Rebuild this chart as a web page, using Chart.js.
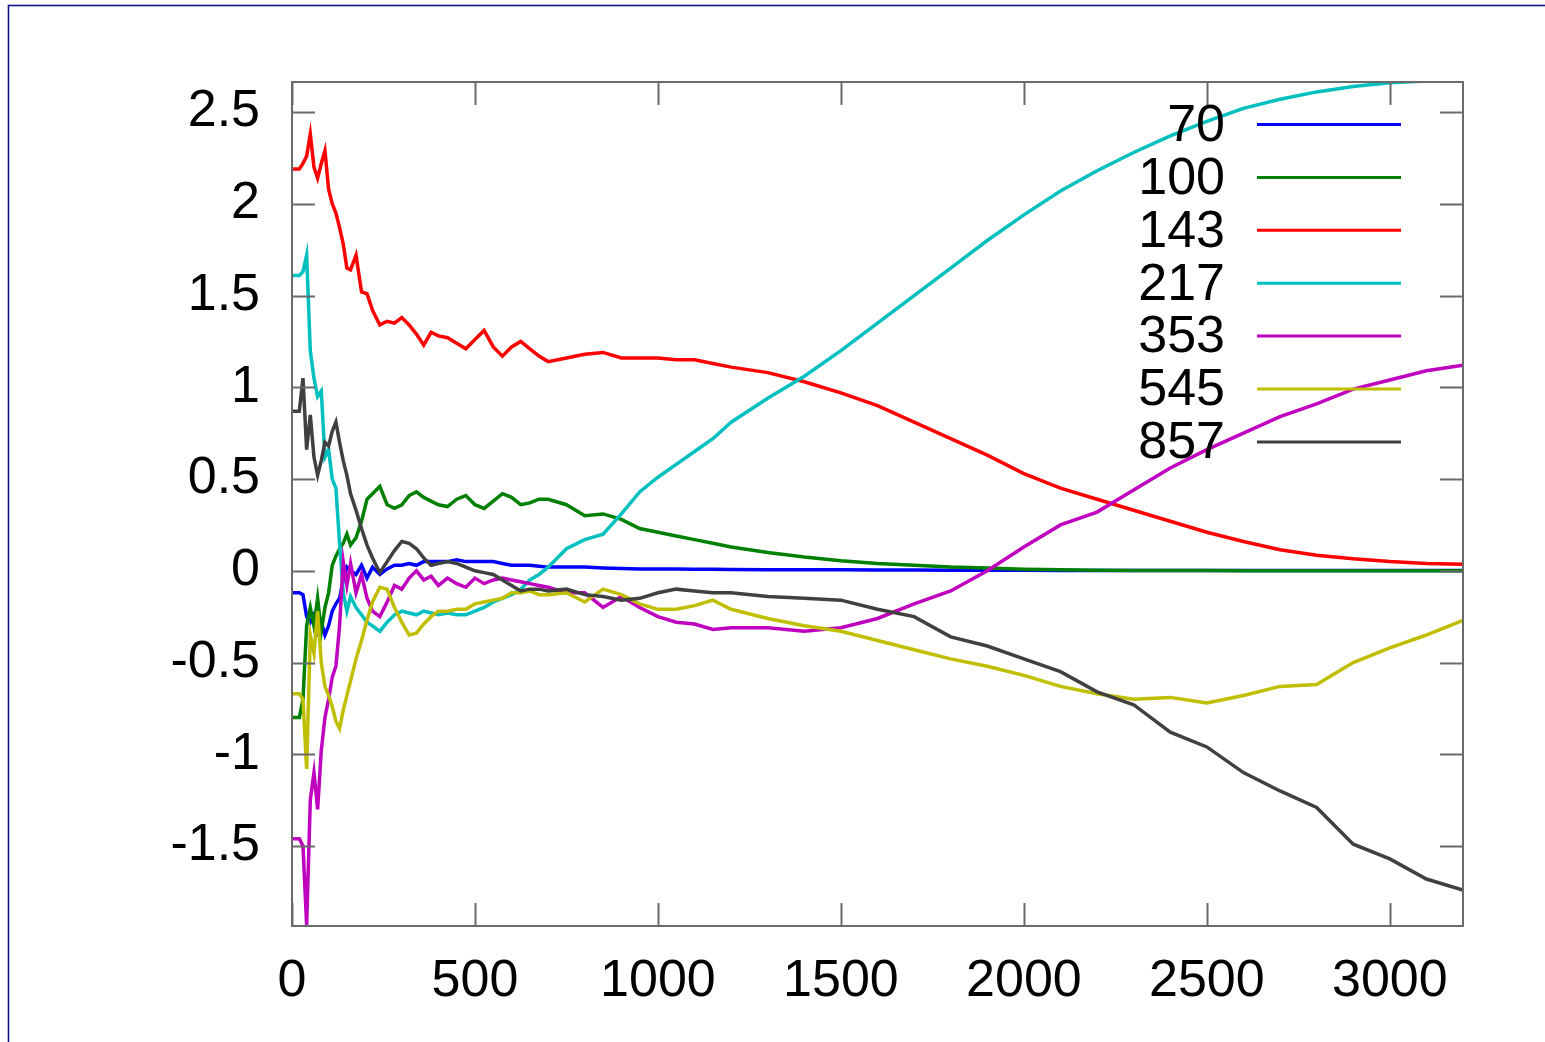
<!DOCTYPE html>
<html><head><meta charset="utf-8">
<script src="https://cdn.jsdelivr.net/npm/chart.js@4.4.1/dist/chart.umd.min.js"></script>
<style>html,body{margin:0;padding:0;background:#fff;overflow:hidden}canvas{position:absolute;left:0;top:0}</style>
</head><body>
<canvas id="c" width="1545" height="1042"></canvas>
<script>
// x positions shared by every series
const xs = [0,20,30,40,50,60,70,80,90,100,
  110,120,130,140,150,160,175,190,205,220,
  240,260,280,300,320,340,360,380,400,425,
  450,475,500,525,550,575,600,625,650,675,
  700,750,800,850,900,950,1000,1050,1100,1150,
  1200,1300,1400,1500,1600,1700,1800,1900,2000,2100,
  2200,2300,2400,2500,2600,2700,2800,2900,3000,3100,
  3200];

const s70 = [-0.12,-0.12,-0.13,-0.25,-0.28,-0.24,-0.33,-0.28,-0.35,-0.30,
  -0.22,-0.18,-0.15,-0.05,0.02,0.00,-0.02,0.03,-0.04,0.02,
  -0.02,0.01,0.03,0.03,0.04,0.03,0.05,0.05,0.05,0.05,
  0.06,0.05,0.05,0.05,0.05,0.04,0.03,0.03,0.03,0.025,
  0.02,0.02,0.02,0.015,0.012,0.01,0.01,0.01,0.008,0.008,
  0.007,0.006,0.005,0.005,0.004,0.004,0.003,0.003,0.003,0.002,
  0.002,0.002,0.002,0.001,0.001,0.001,0.001,0.001,0.001,0.001,
  0.001];

const s100 = [-0.80,-0.80,-0.70,-0.30,-0.20,-0.30,-0.15,-0.33,-0.20,-0.12,
  0.03,0.08,0.12,0.15,0.20,0.14,0.18,0.27,0.39,0.42,
  0.46,0.36,0.34,0.36,0.41,0.43,0.40,0.38,0.36,0.35,
  0.39,0.41,0.36,0.34,0.38,0.42,0.40,0.36,0.37,0.39,
  0.39,0.36,0.30,0.31,0.28,0.23,0.21,0.19,0.17,0.15,
  0.13,0.10,0.075,0.055,0.04,0.03,0.02,0.015,0.008,0.005,
  0.003,0.002,0.001,0.001,0,0,0,0,0,0,
  0];

const s143 = [2.19,2.19,2.22,2.26,2.38,2.20,2.14,2.22,2.29,2.08,
  2.00,1.95,1.87,1.78,1.65,1.64,1.72,1.52,1.51,1.42,
  1.34,1.36,1.35,1.38,1.34,1.29,1.23,1.30,1.28,1.27,
  1.24,1.21,1.26,1.31,1.22,1.17,1.22,1.25,1.21,1.17,
  1.14,1.16,1.18,1.19,1.16,1.16,1.16,1.15,1.15,1.13,
  1.11,1.08,1.03,0.97,0.90,0.81,0.72,0.63,0.53,0.45,
  0.39,0.33,0.27,0.21,0.16,0.115,0.085,0.065,0.05,0.04,
  0.035];

const s217 = [1.61,1.61,1.63,1.72,1.20,1.05,0.95,0.98,0.62,0.66,
  0.50,0.45,0.15,-0.12,-0.22,-0.14,-0.20,-0.24,-0.28,-0.30,
  -0.33,-0.28,-0.24,-0.22,-0.23,-0.24,-0.22,-0.23,-0.24,-0.23,
  -0.24,-0.24,-0.22,-0.20,-0.17,-0.15,-0.13,-0.10,-0.05,-0.02,
  0.02,0.12,0.17,0.20,0.31,0.43,0.51,0.58,0.65,0.72,
  0.81,0.94,1.06,1.20,1.35,1.50,1.65,1.80,1.94,2.07,
  2.18,2.28,2.37,2.45,2.52,2.57,2.61,2.64,2.66,2.67,
  2.67];

const s353 = [-1.46,-1.46,-1.50,-1.93,-1.25,-1.10,-1.30,-0.98,-0.80,-0.70,
  -0.58,-0.52,-0.30,0.05,-0.08,0.04,-0.12,-0.02,-0.15,-0.22,
  -0.25,-0.17,-0.08,-0.10,-0.04,0.00,-0.05,-0.03,-0.08,-0.04,
  -0.07,-0.09,-0.04,-0.07,-0.05,-0.04,-0.05,-0.06,-0.07,-0.08,
  -0.09,-0.12,-0.12,-0.20,-0.14,-0.20,-0.25,-0.28,-0.29,-0.32,
  -0.31,-0.31,-0.33,-0.31,-0.26,-0.18,-0.11,0.00,0.13,0.25,
  0.32,0.44,0.56,0.66,0.75,0.84,0.91,0.99,1.04,1.09,
  1.12];

const s545 = [-0.67,-0.67,-0.70,-1.08,-0.35,-0.45,-0.22,-0.50,-0.63,-0.68,
  -0.74,-0.82,-0.86,-0.76,-0.68,-0.60,-0.48,-0.38,-0.27,-0.17,
  -0.09,-0.10,-0.20,-0.28,-0.35,-0.34,-0.29,-0.25,-0.22,-0.22,
  -0.21,-0.21,-0.18,-0.17,-0.16,-0.15,-0.12,-0.12,-0.11,-0.13,
  -0.13,-0.12,-0.17,-0.10,-0.13,-0.18,-0.21,-0.21,-0.19,-0.16,
  -0.21,-0.26,-0.30,-0.33,-0.38,-0.43,-0.48,-0.52,-0.57,-0.63,
  -0.67,-0.70,-0.69,-0.72,-0.68,-0.63,-0.62,-0.50,-0.42,-0.35,
  -0.27];

const s857 = [0.87,0.87,1.05,0.66,0.85,0.62,0.52,0.60,0.70,0.68,
  0.76,0.81,0.70,0.60,0.52,0.42,0.33,0.23,0.14,0.07,
  -0.01,0.05,0.11,0.16,0.15,0.12,0.07,0.03,0.04,0.05,
  0.04,0.02,0.00,-0.01,-0.02,-0.05,-0.08,-0.11,-0.10,-0.10,
  -0.11,-0.10,-0.13,-0.14,-0.16,-0.15,-0.12,-0.10,-0.11,-0.12,
  -0.12,-0.14,-0.15,-0.16,-0.21,-0.25,-0.36,-0.41,-0.48,-0.55,
  -0.66,-0.73,-0.88,-0.96,-1.10,-1.20,-1.29,-1.49,-1.57,-1.68,
  -1.74];

const seriesLabels = ['70','100','143','217','353','545','857'];
const seriesValues = [s70, s100, s143, s217, s353, s545, s857];
const seriesColors = ['#0000ff','#008000','#ff0000','#00bfbf','#bf00bf','#bfbf00','#404040'];
const xTicks = [0,500,1000,1500,2000,2500,3000];
const yTicks = [-1.5,-1,-0.5,0,0.5,1,1.5,2,2.5];
const xRange = [0, 3200];
const yRange = [-1.936, 2.664];

const FONT = "'Liberation Sans', Arial, Helvetica, sans-serif";
const FSIZE = 52;
const AXIS_COLOR = '#6a6a6a';

const framePlugin = {
  id: 'frame',
  beforeDraw(chart) {
    const ctx = chart.ctx;
    ctx.save();
    ctx.strokeStyle = '#10108a';
    ctx.lineWidth = 1.6;
    ctx.strokeRect(8.5, 5.5, 1700, 1200);
    ctx.restore();
  },
  afterDraw(chart) {
    const ctx = chart.ctx;
    const a = chart.chartArea;
    const xs_ = chart.scales.x, ys_ = chart.scales.y;
    const TL = 23;
    ctx.save();
    ctx.strokeStyle = AXIS_COLOR;
    ctx.lineWidth = 2;
    ctx.beginPath();
    xTicks.forEach(v => {
      const p = Math.round(xs_.getPixelForValue(v)) + 0.5;
      ctx.moveTo(p, a.bottom); ctx.lineTo(p, a.bottom - TL);
      ctx.moveTo(p, a.top); ctx.lineTo(p, a.top + TL);
    });
    yTicks.forEach(v => {
      const p = Math.round(ys_.getPixelForValue(v)) + 0.5;
      ctx.moveTo(a.left, p); ctx.lineTo(a.left + TL, p);
      ctx.moveTo(a.right, p); ctx.lineTo(a.right - TL, p);
    });
    ctx.stroke();
    ctx.strokeRect(a.left, a.top, a.right - a.left, a.bottom - a.top);
    // legend (key) inside top right
    ctx.font = FSIZE + 'px ' + FONT;
    ctx.fillStyle = '#000';
    ctx.textAlign = 'right';
    ctx.textBaseline = 'middle';
    seriesLabels.forEach((lab, i) => {
      const y = 124.5 + i * 52.9;
      ctx.fillText(lab, 1225, y + 2);
      ctx.strokeStyle = seriesColors[i];
      ctx.lineWidth = 3;
      ctx.beginPath();
      ctx.moveTo(1257, y); ctx.lineTo(1401, y);
      ctx.stroke();
    });
    ctx.restore();
  }
};

const datasets = seriesLabels.map((lab, i) => ({
  label: lab,
  data: xs.map((x, j) => ({x: x, y: seriesValues[i][j]})),
  borderColor: seriesColors[i],
  backgroundColor: seriesColors[i],
  borderWidth: 3.5,
  pointRadius: 0,
  tension: 0,
  fill: false,
  order: seriesLabels.length - 1 - i
}));

new Chart(document.getElementById('c'), {
  type: 'line',
  data: { datasets },
  plugins: [framePlugin],
  options: {
    responsive: false,
    animation: false,
    devicePixelRatio: 1,
    layout: { padding: { top: 82, right: 82, left: 0, bottom: 0 } },
    plugins: { legend: { display: false }, tooltip: { enabled: false } },
    scales: {
      x: {
        type: 'linear', min: xRange[0], max: xRange[1],
        grid: { display: false, drawTicks: false },
        border: { display: false },
        afterBuildTicks: s => { s.ticks = xTicks.map(v => ({ value: v })); },
        afterFit: s => { s.height = 116; },
        ticks: { autoSkip: false, maxRotation: 0, padding: 24, color: '#000',
          font: { family: FONT, size: FSIZE }, callback: v => String(v) }
      },
      y: {
        type: 'linear', min: yRange[0], max: yRange[1],
        grid: { display: false, drawTicks: false },
        border: { display: false },
        afterBuildTicks: s => { s.ticks = yTicks.map(v => ({ value: v })); },
        afterFit: s => { s.width = 292; },
        ticks: { autoSkip: false, padding: 32, color: '#000',
          font: { family: FONT, size: FSIZE }, callback: v => String(v) }
      }
    }
  }
});
</script>
</body></html>
